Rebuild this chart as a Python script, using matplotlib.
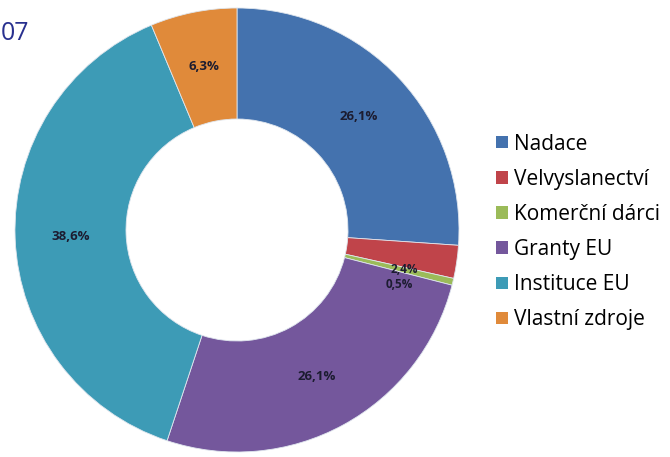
import matplotlib.pyplot as plt
import numpy as np
from matplotlib.patches import Patch

# zdroje financovani (podil v %)
categories = ["Nadace", "Velvyslanectví", "Komerční dárci", "Granty EU", "Instituce EU", "Vlastní zdroje"]
values = [26.1, 2.4, 0.5, 26.1, 38.6, 6.3]
colors = ["#4472ae", "#c0444a", "#9bbb59", "#74579c", "#3d9bb6", "#e08a3a"]

plt.rcParams['font.family'] = ['Open Sans', 'DejaVu Sans']

fig = plt.figure(figsize=(6.7, 4.57), dpi=100)
ax = fig.add_axes([15 / 670, 5 / 457, 444 / 670, 444 / 457])

wedges, texts, pcts = ax.pie(
    values, colors=colors, startangle=90, counterclock=False,
    radius=1.0, wedgeprops=dict(width=0.5, edgecolor="#dfe6ee", linewidth=0.6),
    autopct=lambda p: ("%.1f%%" % p).replace(".", ","), pctdistance=0.75,
    textprops=dict(fontsize=9.5, fontweight="bold", color="#1c1c30"))

# male vysece - popisky trochu niz, jako v originalu
for v, t in zip(values, pcts):
    if v < 3:
        x, y = t.get_position()
        ang = np.arctan2(y, x) - np.radians(5)
        r = np.hypot(x, y) * 1.03
        t.set_position((r * np.cos(ang), r * np.sin(ang)))
        t.set_fontsize(8.5)

ax.set_xlim(-1, 1)
ax.set_ylim(-1, 1)
ax.set_aspect("equal")
ax.axis("off")

handles = [Patch(facecolor=c, edgecolor="none") for c in colors]
fig.legend(handles, categories, loc="center left", bbox_to_anchor=(486 / 670, 1 - 232 / 457),
           frameon=False, fontsize=15, handlelength=0.55, handleheight=0.55,
           handletextpad=0.3, labelspacing=0.68, borderpad=0)

# useknuty nadpis vlevo nahore
fig.text(0.5 / 670, 1 - 34 / 457, "07", ha="left", va="center", fontsize=18, color="#28308f")

fig.savefig("out.png", dpi=100)
